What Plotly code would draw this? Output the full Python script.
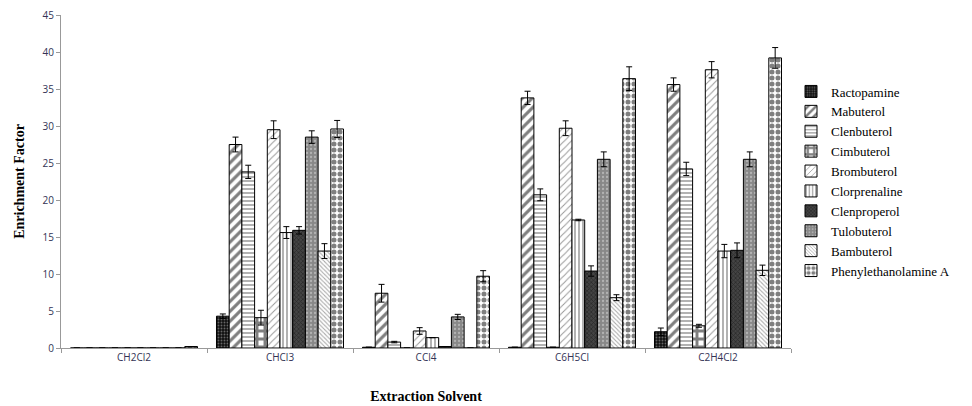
import plotly.graph_objects as go

solvents = ["CH2Cl2", "CHCl3", "CCl4", "C6H5Cl", "C2H4Cl2"]
compounds = ["Ractopamine", "Mabuterol", "Clenbuterol", "Cimbuterol", "Brombuterol",
             "Clorprenaline", "Clenproperol", "Tulobuterol", "Bambuterol", "Phenylethanolamine A"]

ractopamine = [0.0, 4.3, 0.1, 0.1, 2.2]
mabuterol = [0.0, 27.5, 7.4, 33.8, 35.6]
clenbuterol = [0.0, 23.8, 0.8, 20.7, 24.2]
cimbuterol = [0.0, 4.1, 0.0, 0.1, 3.0]
brombuterol = [0.0, 29.5, 2.3, 29.7, 37.6]
clorprenaline = [0.0, 15.6, 1.4, 17.3, 13.1]
clenproperol = [0.0, 15.9, 0.2, 10.4, 13.2]
tulobuterol = [0.0, 28.5, 4.2, 25.5, 25.5]
bambuterol = [0.0, 13.1, 0.0, 6.8, 10.5]
phenylethanolamine_a = [0.2, 29.6, 9.7, 36.4, 39.2]

err_ractopamine = [0.0, 0.3, 0.0, 0.0, 0.5]
err_mabuterol = [0.0, 1.0, 1.2, 0.9, 0.9]
err_clenbuterol = [0.0, 0.9, 0.1, 0.8, 0.9]
err_cimbuterol = [0.0, 1.0, 0.0, 0.0, 0.2]
err_brombuterol = [0.0, 1.2, 0.45, 1.0, 1.1]
err_clorprenaline = [0.0, 0.8, 0.0, 0.1, 0.9]
err_clenproperol = [0.0, 0.5, 0.0, 0.7, 1.0]
err_tulobuterol = [0.0, 0.85, 0.35, 1.0, 1.0]
err_bambuterol = [0.0, 1.0, 0.0, 0.4, 0.7]
err_phenylethanolamine_a = [0.0, 1.15, 0.75, 1.6, 1.4]

values = [ractopamine, mabuterol, clenbuterol, cimbuterol, brombuterol,
          clorprenaline, clenproperol, tulobuterol, bambuterol, phenylethanolamine_a]
errors = [err_ractopamine, err_mabuterol, err_clenbuterol, err_cimbuterol, err_brombuterol,
          err_clorprenaline, err_clenproperol, err_tulobuterol, err_bambuterol, err_phenylethanolamine_a]

# (bgcolor, shape, fgcolor, size, solidity)
styles = [
    ("#111111", ".", "#bbbbbb", 3, 0.3),
    ("white", "/", "black", 7, 0.45),
    ("white", "-", "black", 4, 0.3),
    ("white", "+", "black", 8, 0.6),
    ("white", "/", "#333333", 5, 0.2),
    ("white", "|", "black", 4, 0.3),
    ("#444444", "x", "#111111", 3, 0.45),
    ("#888888", ".", "#dddddd", 4, 0.25),
    ("white", "\\", "#555555", 3, 0.35),
    ("white", ".", "black", 6, 0.55),
]

fig = go.Figure()
for name, v, e, (bg, sh, fg, sz, so) in zip(compounds, values, errors, styles):
    fig.add_trace(go.Bar(
        name=name, x=solvents, y=v,
        error_y=dict(type="data", array=e, visible=True, color="black", thickness=1, width=3),
        marker=dict(color=bg, line=dict(color="black", width=1),
                    pattern=dict(shape=sh, fgcolor=fg, bgcolor=bg, size=sz, solidity=so,
                                 fillmode="overlay")),
    ))

# page body has an 8px default margin; size the figure to fill the rest of the window
fig.update_layout(
    width=964, height=398,
    margin=dict(l=53, r=181, t=7, b=58, autoexpand=False),
    paper_bgcolor="white", plot_bgcolor="white",
    barmode="group", bargap=0.13, bargroupgap=0,
    font=dict(family="Open Sans", size=10, color="#333355"),
    legend=dict(x=1.0, y=0.5, yanchor="middle", xanchor="left",
                font=dict(family="Liberation Serif", size=13, color="black"),
                tracegroupgap=0, itemwidth=30),
    showlegend=True,
)
fig.update_xaxes(
    automargin=False,
    showline=True, linecolor="#999999", linewidth=1,
    ticks="outside", tickson="boundaries", ticklen=4, tickcolor="#999999",
    tickfont=dict(family="Open Sans", size=10, color="#333355"),
    title=dict(text="<b>Extraction Solvent</b>", standoff=28,
               font=dict(family="Liberation Serif", size=14, color="black")),
)
fig.update_yaxes(
    automargin=False, ticklabeloverflow="allow",
    range=[0, 45], dtick=5, showgrid=False, zeroline=False,
    showline=True, linecolor="#999999", linewidth=1,
    ticks="outside", ticklen=4, tickcolor="#999999",
    tickfont=dict(family="Open Sans", size=10, color="#333355"),
    title=dict(text="<b>Enrichment Factor</b>", standoff=14,
               font=dict(family="Liberation Serif", size=14, color="black")),
)

fig.write_html("out.html")
